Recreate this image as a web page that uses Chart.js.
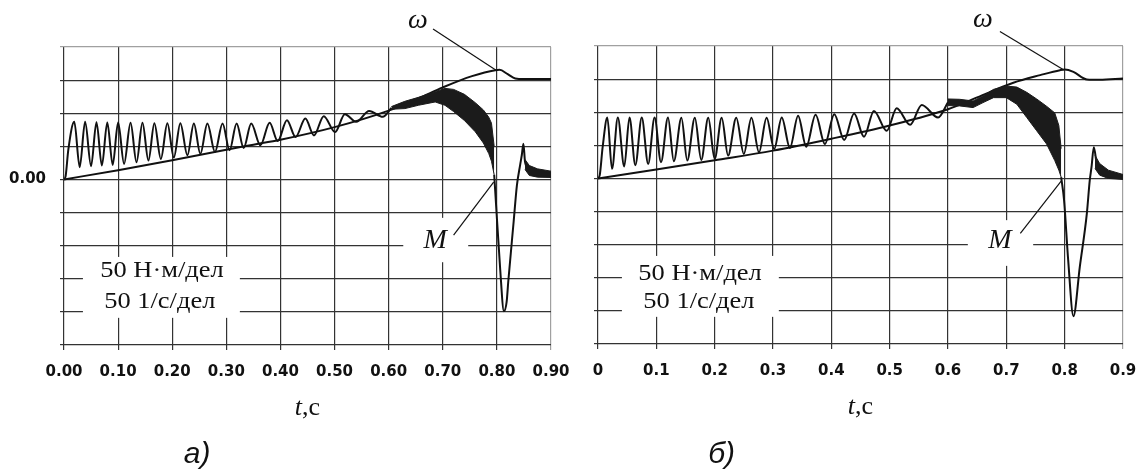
<!DOCTYPE html>
<html lang="ru">
<head>
<meta charset="utf-8">
<title>M, ω (t)</title>
<script src="https://cdn.jsdelivr.net/npm/chart.js"></script>
<style>
  body { margin: 0; background: #fff; overflow: hidden; }
  #wrap { position: relative; width: 1142px; height: 475px; }
  #wrap canvas { position: absolute; top: 0; }
</style>
</head>
<body>
<div id="wrap">
  <canvas id="chartA" width="571" height="475" style="left:0"></canvas>
  <canvas id="chartB" width="571" height="475" style="left:571px"></canvas>
</div>

<script>
// ---- tick labels ----
const xTicksA = ['0.00', '0.10', '0.20', '0.30', '0.40', '0.50', '0.60', '0.70', '0.80', '0.90'];
const xTicksB = ['0', '0.1', '0.2', '0.3', '0.4', '0.5', '0.6', '0.7', '0.8', '0.9'];
const yTicksA = ['', '', '', '', '', '0.00', '', '', '', ''];   // -250 ... 200
const yTicksB = ['', '', '', '', '', '', '', '', '', ''];

// ---- panel а) ----
const omegaTA = [0, 0.1, 0.2, 0.3, 0.35, 0.4, 0.5, 0.6, 0.655, 0.7, 0.754, 0.797, 0.805, 0.82, 0.834, 0.85, 0.9];
const omegaVA = [0, 14, 29, 45, 52.5, 60, 79, 104, 122.5, 139, 156, 165, 165.5, 159, 152.5, 151.5, 151.5];

const torqueTA = [0, 0.003, 0.008, 0.019, 0.029, 0.039, 0.050, 0.060, 0.070, 0.080, 0.090, 0.100, 0.111, 0.123,
  0.134, 0.145, 0.156, 0.167, 0.179, 0.191, 0.203, 0.215, 0.228, 0.240, 0.252, 0.265, 0.279, 0.293, 0.306, 0.319,
  0.332, 0.346, 0.363, 0.380, 0.395, 0.412, 0.428, 0.446, 0.462, 0.480, 0.501, 0.519, 0.540, 0.564, 0.589, 0.605];
const torqueVA = [0, 5, 45, 87, 18.5, 87, 20, 86.5, 21, 86, 22, 86, 23.5, 85.5,
  26, 85.5, 28.5, 85, 31, 85, 33, 85, 36.5, 84.5, 38.5, 84.5, 41.5, 84.5, 44, 84.5,
  47.5, 84.5, 51.5, 85.5, 58, 89.5, 64, 92, 66.5, 95.5, 71.5, 98.5, 87, 103.5, 94.5, 108];
const torqueEndTA = [0.795, 0.797, 0.806, 0.813, 0.818, 0.821, 0.831, 0.837, 0.843, 0.846, 0.849, 0.852, 0.858, 0.871, 0.9];
const torqueEndVA = [7, -18.5, -134.5, -199, -185, -154.5, -63.5, -9, 22, 36.5, 54, 26.5, 16.5, 9, 6];

const bandTA = [0.605, 0.63, 0.655, 0.686, 0.704, 0.72, 0.74, 0.76, 0.775, 0.785, 0.79, 0.795];
const bandHiA = [110, 118, 124, 132.5, 137.5, 136, 128.5, 116, 105, 94, 85, 50];
const bandLoA = [106, 107, 112, 117, 112, 102.5, 89, 72, 55, 39, 27.5, 7];
const tailTA = [0.852, 0.86, 0.875, 0.9];
const tailHiA = [30, 21, 16, 12.5];
const tailLoA = [15, 6, 3.5, 3];

// ---- panel б) ----
const omegaTB = [0, 0.1, 0.2, 0.3, 0.4, 0.5, 0.6, 0.65, 0.712, 0.758, 0.792, 0.8, 0.815, 0.838, 0.86, 0.9];
const omegaVB = [0, 13.5, 27.5, 42, 60, 80, 104.5, 122.5, 144.5, 156, 163.5, 164.5, 161, 149.5, 149, 151];

const torqueTB = [0, 0.003, 0.008, 0.016, 0.024, 0.034, 0.045, 0.054, 0.064, 0.075, 0.086, 0.097, 0.108, 0.120,
  0.130, 0.143, 0.153, 0.166, 0.177, 0.189, 0.200, 0.212, 0.223, 0.237, 0.250, 0.263, 0.276, 0.289, 0.302, 0.315,
  0.329, 0.343, 0.357, 0.373, 0.389, 0.405, 0.422, 0.439, 0.456, 0.473, 0.495, 0.512, 0.535, 0.555, 0.583, 0.600];
const torqueVB = [0, 5, 47.5, 92, 14.5, 92, 18, 92, 20, 92, 22, 92, 24.5, 92,
  26, 91.5, 27, 91.5, 28, 91.5, 29.5, 91.5, 34.5, 91.5, 37, 91.5, 39.5, 91.5, 44.5, 92,
  46, 94.5, 48, 96, 52, 97, 58, 98, 63, 102, 72, 106, 81, 111, 92, 115];
const torqueEndTB = [0.794, 0.799, 0.806, 0.815, 0.826, 0.838, 0.843, 0.846, 0.850, 0.855, 0.860, 0.872, 0.9];
const torqueEndVB = [2, -33, -123, -208, -133, -53, -3, 17, 47, 22, 12, 4.5, 0];

const bandTB = [0.60, 0.62, 0.643, 0.66, 0.678, 0.70, 0.718, 0.735, 0.752, 0.769, 0.783, 0.79, 0.794];
const bandHiB = [120, 119.5, 117, 124.5, 134.5, 139.5, 138, 130, 120, 109, 99, 80, 45];
const bandLoB = [110, 109.5, 107, 114.5, 122, 122, 112, 92, 72, 52, 27, 12.5, 2];
const tailTB = [0.852, 0.86, 0.875, 0.9];
const tailHiB = [35, 22.5, 12.5, 6];
const tailLoB = [15, 5, 0, -1.5];

// ---- helpers ----
const INK = '#111';
const pts = (ts, vs) => ts.map((t, i) => ({ x: t, y: vs[i] }));

const serif = '"Liberation Serif", "Times New Roman", serif';
const sans = '"Liberation Sans", Arial, sans-serif';
const tickFont = { family: '"DejaVu Sans", sans-serif', size: 15, weight: 'bold' };

// white boxes, leader lines and captions, placed in axis units
const marksPlugin = {
    id: 'marks',
    beforeDatasetsDraw(chart, args, opts) {
        const { ctx } = chart;
        const x = chart.scales.x, y = chart.scales.y;
        ctx.save();
        ctx.fillStyle = '#fff';
        opts.boxes.forEach(b => {
            const x0 = x.getPixelForValue(b[0]), x1 = x.getPixelForValue(b[1]);
            const y0 = y.getPixelForValue(b[2]), y1 = y.getPixelForValue(b[3]);
            ctx.fillRect(x0, y0, x1 - x0, y1 - y0);
        });
        ctx.restore();
    },
    afterDraw(chart, args, opts) {
        const { ctx } = chart;
        const x = chart.scales.x, y = chart.scales.y;
        ctx.save();
        ctx.strokeStyle = INK;
        ctx.lineWidth = 1.2;
        opts.leaders.forEach(l => {
            ctx.beginPath();
            ctx.moveTo(x.getPixelForValue(l[0]), y.getPixelForValue(l[1]));
            ctx.lineTo(x.getPixelForValue(l[2]), y.getPixelForValue(l[3]));
            ctx.stroke();
        });
        ctx.fillStyle = INK;
        ctx.textBaseline = 'alphabetic';
        opts.texts.forEach(t => {
            ctx.save();
            ctx.translate(x.getPixelForValue(t.x), y.getPixelForValue(t.y));
            ctx.scale(t.sx || 1, 1);
            // text made of parts with own fonts, centred as a whole
            let total = 0;
            t.parts.forEach(p => { ctx.font = p[1]; total += ctx.measureText(p[0]).width; });
            let cx = -total / 2;
            ctx.textAlign = 'left';
            t.parts.forEach(p => {
                ctx.font = p[1];
                ctx.fillText(p[0], cx, 0);
                cx += ctx.measureText(p[0]).width;
            });
            ctx.restore();
        });
        ctx.restore();
    }
};

function makeChart(id, cfg) {
    const ctx = document.getElementById(id).getContext('2d');
    const torque = pts(cfg.torqueT, cfg.torqueV).concat([{ x: cfg.torqueT[cfg.torqueT.length - 1] + 0.001, y: null }], pts(cfg.torqueEndT, cfg.torqueEndV));
    const band = { borderColor: '#1b1b1b', backgroundColor: '#1b1b1b', borderWidth: 1, pointRadius: 0, tension: 0 };
    const curve = { borderColor: INK, borderWidth: 2, pointRadius: 0, cubicInterpolationMode: 'monotone', fill: false };

    return new Chart(ctx, {
        type: 'line',
        data: {
            datasets: [
                Object.assign({ label: 'band hi', data: pts(cfg.bandT, cfg.bandHi), fill: '+1' }, band),
                Object.assign({ label: 'band lo', data: pts(cfg.bandT, cfg.bandLo), fill: false }, band),
                Object.assign({ label: 'tail hi', data: pts(cfg.tailT, cfg.tailHi), fill: '+1' }, band),
                Object.assign({ label: 'tail lo', data: pts(cfg.tailT, cfg.tailLo), fill: false }, band),
                Object.assign({ label: 'M', data: torque }, curve),
                Object.assign({ label: 'ω', data: pts(cfg.omegaT, cfg.omegaV) }, curve)
            ]
        },
        options: {
            responsive: false,
            animation: false,
            devicePixelRatio: 1,
            layout: { padding: { top: cfg.top, right: cfg.right, left: 0, bottom: 0 } },
            plugins: {
                legend: { display: false },
                tooltip: { enabled: false },
                marks: cfg.marks
            },
            scales: {
                x: {
                    type: 'linear',
                    min: 0,
                    max: 0.9,
                    afterFit: (s) => { s.height = cfg.xAxisHeight; s.paddingLeft = 0; s.paddingRight = 0; },
                    border: { display: false },
                    grid: {
                        color: (c) => c.index === 9 ? '#a0a0a0' : '#333',
                        lineWidth: 1.2,
                        tickLength: 5
                    },
                    ticks: {
                        stepSize: 0.1,
                        padding: 13,
                        color: INK,
                        maxRotation: 0,
                        autoSkip: false,
                        font: tickFont,
                        callback: (v, i) => cfg.xTicks[i]
                    }
                },
                y: {
                    type: 'linear',
                    min: -250,
                    max: 200,
                    afterFit: (s) => { s.width = cfg.yAxisWidth; s.paddingTop = 0; s.paddingBottom = 0; },
                    border: { display: false },
                    grid: {
                        color: (c) => c.index === 9 ? '#a0a0a0' : '#333',
                        lineWidth: 1.2,
                        tickLength: 4
                    },
                    ticks: {
                        stepSize: 50,
                        padding: 14,
                        color: INK,
                        autoSkip: false,
                        font: tickFont,
                        callback: (v, i) => cfg.yTicks[i]
                    }
                }
            }
        },
        plugins: [marksPlugin]
    });
}

const scaleFont = '23px ' + serif;
const italicBig = 'italic 28px ' + serif;

makeChart('chartA', {
    omegaT: omegaTA, omegaV: omegaVA,
    torqueT: torqueTA, torqueV: torqueVA, torqueEndT: torqueEndTA, torqueEndV: torqueEndVA,
    bandT: bandTA, bandHi: bandHiA, bandLo: bandLoA,
    tailT: tailTA, tailHi: tailHiA, tailLo: tailLoA,
    xTicks: xTicksA, yTicks: yTicksA,
    top: 47, right: 20, yAxisWidth: 64, xAxisHeight: 130,
    marks: {
        boxes: [[0.035, 0.325, -117, -209], [0.627, 0.747, -58, -125]],
        leaders: [[0.682, 227, 0.800, 164], [0.720, -84, 0.794, -4]],
        texts: [
            { x: 0.181, y: -147.6, sx: 1.15, parts: [['50 Н·м/дел', scaleFont]] },
            { x: 0.177, y: -194, sx: 1.15, parts: [['50 1/с/дел', scaleFont]] },
            { x: 0.686, y: -104, parts: [['M', italicBig]] },
            { x: 0.654, y: 229, parts: [['ω', italicBig]] },
            { x: 0.45, y: -355, parts: [['t', 'italic 26px ' + serif], [',с', '26px ' + serif]] },
            { x: 0.246, y: -428, parts: [['а)', 'italic 30px ' + sans]] }
        ]
    }
});

makeChart('chartB', {
    omegaT: omegaTB, omegaV: omegaVB,
    torqueT: torqueTB, torqueV: torqueVB, torqueEndT: torqueEndTB, torqueEndV: torqueEndVB,
    bandT: bandTB, bandHi: bandHiB, bandLo: bandLoB,
    tailT: tailTB, tailHi: tailHiB, tailLo: tailLoB,
    xTicks: xTicksB, yTicks: yTicksB,
    top: 46, right: 19, yAxisWidth: 27, xAxisHeight: 131,
    marks: {
        boxes: [[0.041, 0.31, -117, -209], [0.634, 0.746, -63, -132]],
        leaders: [[0.689, 222, 0.798, 164], [0.724, -83, 0.795, -3]],
        texts: [
            { x: 0.175, y: -153, sx: 1.15, parts: [['50 Н·м/дел', scaleFont]] },
            { x: 0.173, y: -195, sx: 1.15, parts: [['50 1/с/дел', scaleFont]] },
            { x: 0.689, y: -104.7, parts: [['M', italicBig]] },
            { x: 0.660, y: 229, parts: [['ω', italicBig]] },
            { x: 0.45, y: -356, parts: [['t', 'italic 26px ' + serif], [',с', '26px ' + serif]] },
            { x: 0.212, y: -429, parts: [['б)', 'italic 30px ' + sans]] }
        ]
    }
});
</script>
</body>
</html>
